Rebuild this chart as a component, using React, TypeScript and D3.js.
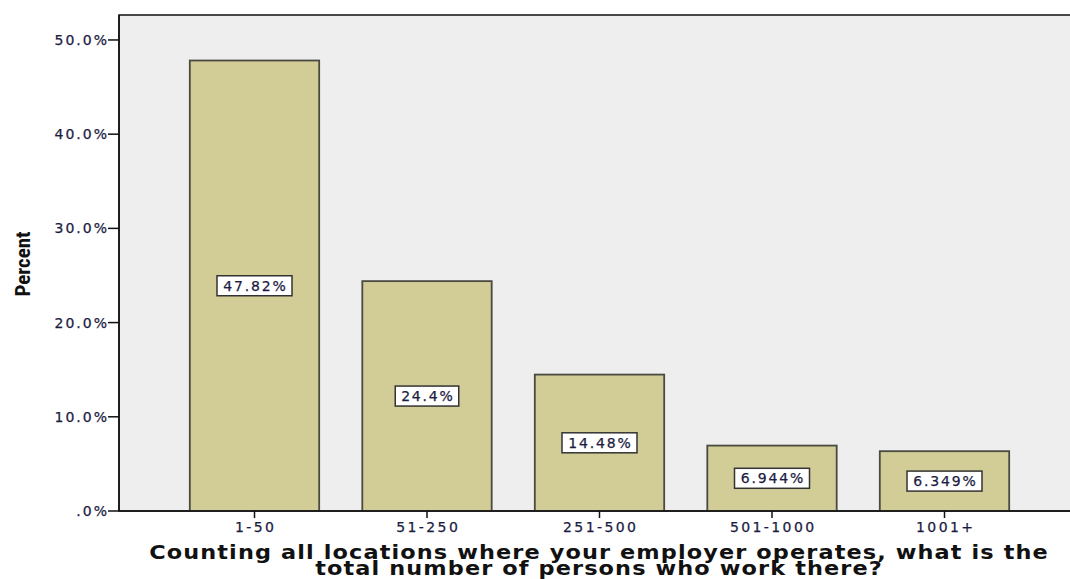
import * as d3 from 'd3';

const width = 1070;
const height = 579;
const marginLeft = 119;
const marginTop = 15;
const marginBottom = 68;

const categories = ["1-50", "51-250", "251-500", "501-1000", "1001+"];
const percents = [47.82, 24.4, 14.48, 6.944, 6.349];
const labels = ["47.82%", "24.4%", "14.48%", "6.944%", "6.349%"];
const yTicks = [0, 10, 20, 30, 40, 50];
const yTickLabels = [".0%", "10.0%", "20.0%", "30.0%", "40.0%", "50.0%"];
const titleLines = [
    "Counting all locations where your employer operates, what is the",
    "total number of persons who work there?",
];

const App = () => {
    const y = d3.scaleLinear([0, 52.65], [height - marginBottom, marginTop]);
    const x = d3.scaleBand(categories, [168.25, 1030.75]).paddingInner(0.25).paddingOuter(0.125);
    const bottom = height - marginBottom;
    const tickFont = "DejaVu Sans, Verdana, sans-serif";
    const ink = "#1c1c42";
    return (
        <svg width={width} height={height} style={{ position: "absolute", left: 0, top: 0 }}>
            <rect x={marginLeft} y={marginTop} width={width - marginLeft + 5} height={bottom - marginTop}
                fill="#eeeeee" stroke="#111" strokeWidth={1.5} />
            {percents.map((d, i) => (
                <rect key={i} x={x(categories[i])} y={y(d)} width={x.bandwidth()} height={bottom - y(d)}
                    fill="#d2cd97" stroke="#4a4a40" strokeWidth={1.8} />
            ))}
            {percents.map((d, i) => {
                const cx = (x(categories[i]) as number) + x.bandwidth() / 2;
                const cy = (y(d) + bottom) / 2;
                const w = labels[i].length * 11.5 + 6;
                return (
                    <g key={i}>
                        <rect x={cx - w / 2} y={cy - 10} width={w} height={20} fill="white" stroke="#333" strokeWidth={1.5} />
                        <text x={cx + 0.9} y={cy} dy="0.36em" textAnchor="middle" fontFamily={tickFont} fontSize={14}
                            letterSpacing={1.8} fill={ink} stroke={ink} strokeWidth={0.25}>{labels[i]}</text>
                    </g>
                );
            })}
            <line x1={marginLeft} x2={width} y1={bottom} y2={bottom} stroke="#111" strokeWidth={1.5} />
            <line x1={marginLeft} x2={marginLeft} y1={marginTop} y2={bottom} stroke="#111" strokeWidth={1.5} />
            {yTicks.map((t, i) => (
                <g key={t} transform={`translate(${marginLeft},${y(t)})`}>
                    <line x1={-11} x2={0} stroke="#111" strokeWidth={1.5} />
                    <text x={-10} dy="0.36em" textAnchor="end" fontFamily={tickFont} fontSize={14}
                        letterSpacing={2} fill={ink} stroke={ink} strokeWidth={0.25}>{yTickLabels[i]}</text>
                </g>
            ))}
            {categories.map(c => (
                <g key={c} transform={`translate(${(x(c) as number) + x.bandwidth() / 2},${bottom})`}>
                    <line y1={0} y2={7} stroke="#111" strokeWidth={1.5} />
                    <text x={1.2} y={21} textAnchor="middle" fontFamily={tickFont} fontSize={14}
                        letterSpacing={2.4} fill={ink} stroke={ink} strokeWidth={0.25}>{c}</text>
                </g>
            ))}
            <text transform="translate(30,264) rotate(-90)" textAnchor="middle" fontFamily="Liberation Sans Narrow, Roboto Condensed, sans-serif"
                fontWeight="bold" fontSize={21} fill="#111">Percent</text>
            {titleLines.map((line, i) => (
                <text key={i} transform={`translate(599,${559 + i * 16}) scale(1.12,1)`} textAnchor="middle"
                    fontFamily={tickFont} fontWeight="bold" fontSize={20} letterSpacing={1} fill="#111">{line}</text>
            ))}
        </svg>
    );
};

export default App;
